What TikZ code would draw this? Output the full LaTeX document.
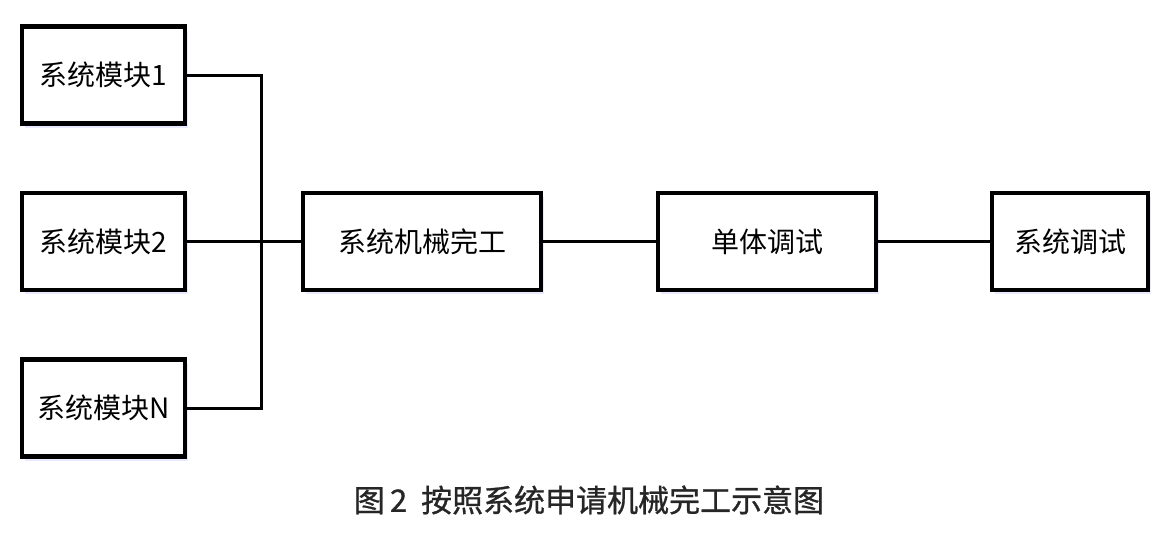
\documentclass[tikz,border=0pt]{standalone}
\usepackage{fontspec}
\setmainfont{Noto Sans CJK SC}
\newfontfamily\capfont[FakeBold=0.9]{Noto Sans CJK SC}
\usetikzlibrary{shadows}

\tikzset{
 blk/.style={draw, line width=4.5pt, fill=white, inner sep=0pt,
  font=\fontsize{28pt}{32pt}\selectfont,
  drop shadow={fill=blue!25, opacity=0.35, shadow xshift=3pt, shadow yshift=-4pt}},
 wire/.style={line width=3pt}
}

\begin{document}
\begin{tikzpicture}[x=1pt,y=-1pt]
\useasboundingbox (0,0) rectangle (1167,538);

\foreach \y/\name/\lab in {75/m1/{系统模块1},241.5/m2/{系统模块2},408/mN/{系统模块N}}{
 \node[blk, minimum width=163pt, minimum height=97pt] (\name) at (103.5,\y) {\lab};
 }
\node[blk, minimum width=238pt, minimum height=97pt] (work) at (422,241.5) {系统机械完工};
\node[blk, minimum width=218pt, minimum height=97pt] (unit) at (767,241.5) {单体调试};
\node[blk, minimum width=156pt, minimum height=97pt] (sys) at (1070,241.5) {系统调试};

\coordinate (bus) at (261,241.5);
\foreach \name in {m1,mN}{
 \draw[wire] (\name.east) -| (bus);
 }
\draw[wire] (m2.east) -- (work.west);
\draw[wire] (work.east) -- (unit.west);
\draw[wire] (unit.east) -- (sys.west);

\node (cap) at (589,500) [font=\capfont\fontsize{31pt}{35pt}\selectfont, text=black!85] {图\,2\ \ 按照系统申请机械完工示意图};
\end{tikzpicture}
\end{document}
